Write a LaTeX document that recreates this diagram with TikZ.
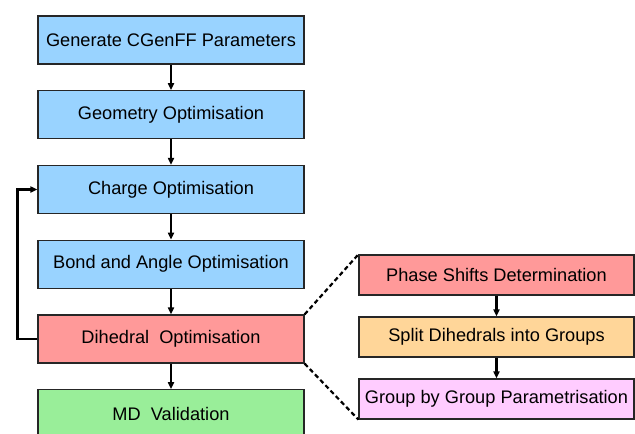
\documentclass[tikz,border=0pt]{standalone}
\usepackage{fontspec}
\setmainfont{Liberation Sans}
\usetikzlibrary{positioning, arrows.meta}

\definecolor{stageblue}{HTML}{99D3FF}
\definecolor{stagered}{HTML}{FF9999}
\definecolor{stageorange}{HTML}{FFD699}
\definecolor{stagepink}{HTML}{FFCCFF}
\definecolor{stagegreen}{HTML}{99EE99}

\tikzset{
  stage/.style={draw=black!85, line width=1.2pt, minimum width=266pt,
    minimum height=48pt, inner sep=0pt, font=\fontsize{18.2}{21}\selectfont},
  substage/.style={stage, minimum width=275pt, minimum height=40pt},
  link/.style={line width=2.2pt, -{Triangle[length=7pt,width=6pt]}},
  zoomline/.style={line width=2.2pt, dash pattern=on 4.5pt off 3pt},
}

\begin{document}
\begin{tikzpicture}
	[x=1pt, y=1pt, on grid, node distance=74.75pt]
   \clip (0,0) rectangle (635,-434);
   \node[stage, fill=stageblue] (gen) at (171,-40) {Generate CGenFF Parameters};
   \node[stage, fill=stageblue] (geo) [below=of gen] {Geometry Optimisation};
   \node[stage, fill=stageblue] (chg) [below=of geo] {Charge Optimisation};
   \node[stage, fill=stageblue] (bond) [below=of chg] {Bond and Angle Optimisation};
   \node[stage, fill=stagered] (dih) [below=of bond] {Dihedral\ \ Optimisation};
   \node[stage, fill=stagegreen] (md) [below=of dih] {MD\ \ Validation};

   \node[substage, fill=stagered] (phase) [above right=64pt and 325.5pt of dih] {Phase Shifts Determination};
   \node[substage, fill=stageorange] (split) [below=62pt of phase] {Split Dihedrals into Groups};
   \node[substage, fill=stagepink] (grp) [below=62pt of split] {Group by Group Parametrisation};

   \path[link]
    (gen) edge (geo)
    (geo) edge (chg)
    (chg) edge (bond)
    (bond) edge (dih)
    (dih) edge (md)
    (phase) edge (split)
    (split) edge (grp);

   \draw[link] (dih.west) -- ++(-20,0) |- (chg.west);
   \draw[zoomline] (dih.north east) -- (phase.north west);
   \draw[zoomline] (dih.south east) -- (grp.south west);

\end{tikzpicture}
\end{document}
